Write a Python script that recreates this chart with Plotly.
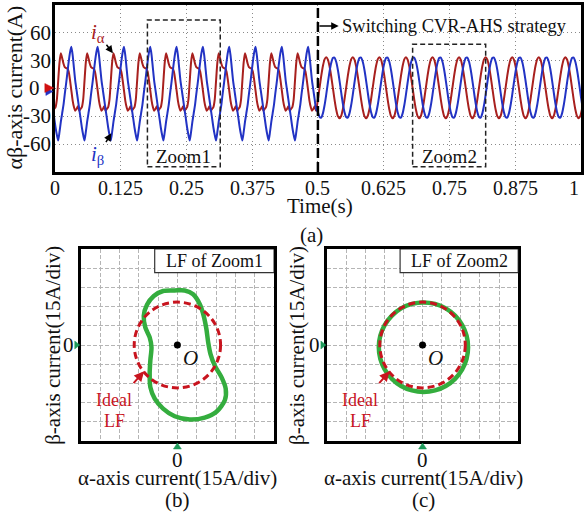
import plotly.graph_objects as go

FONT = "Liberation Serif"
W, H = 584, 514

# ---------------- data ----------------
time_ticks = [0, 0.125, 0.25, 0.375, 0.5, 0.625, 0.75, 0.875, 1]
time_labels = ["0", "0.125", "0.25", "0.375", "0.5", "0.625", "0.75", "0.875", "1"]
current_ticks = [60, 30, 0, -30, -60]
current_labels = ["60", "30", "0", "-30", "-60"]

# one fundamental period before switching (A), 20 samples starting at an i_alpha peak
pre_alpha = [38, 33, 27, 23, 22, 21.5, 18, 9, -2, -13,
             -20, -24, -22, -19, -24, -22, -20, -12, 8, 28]
pre_beta = [-36, -27, -18, -6, 5, 17, 29, 39, 45, 36,
            22, 8, -2, -12, -22, -32, -42, -50, -56, -47]

# one fundamental period after switching (A), 16 samples starting at an i_alpha peak
post_alpha = [33.6, 31.2, 24.0, 13.2, 0.6, -11.9, -22.6, -29.8,
              -32.1, -29.6, -22.4, -11.6, 0.9, 13.5, 24.2, 31.4]
post_beta = [-6.5, 6.2, 18.2, 27.5, 32.8, 33.3, 28.8, 20.2,
             8.6, -4.2, -16.2, -25.5, -30.8, -31.3, -26.8, -18.1]

pre_period = 0.050
post_period = 0.0505
pre_first_peak = 0.0114
post_first_peak = 0.5158
switch_time = 0.497

zoom1_window = [0.176, 0.3144]
zoom2_window = [0.680, 0.8188]

# load-flow trajectory during Zoom1 (A)
lf1_alpha = [-2.1, -11.1, -18.3, -23.6, -26.1, -24.9, -21.5, -20.1, -21.0, -21.5,
             -21.0, -17.6, -11.1, -2.1, 9.6, 21.2, 30.3, 36.8, 37.5, 34.2,
             29.0, 25.7, 23.9, 22.5, 20.4, 17.4, 12.2, 5.7, -2.1]
lf1_beta = [42.6, 42.2, 38.3, 31.4, 22.8, 13.7, 6.0, -1.8, -12.2, -22.5,
            -32.9, -41.9, -49.7, -55.7, -58.2, -56.7, -52.2, -43.2, -34.2, -25.1,
            -16.1, -7.1, 2.1, 12.5, 22.8, 31.8, 39.6, 42.6, 42.6]

# load-flow trajectory during Zoom2 (A)
lf2_alpha = [35.7, 34.5, 31.0, 25.5, 18.2, 9.8, 0.7, -8.3, -16.8, -24.0, -29.6, -33.1,
             -34.3, -33.1, -29.6, -24.0, -16.8, -8.3, 0.7, 9.8, 18.2, 25.5, 31.0, 34.5, 35.7]
lf2_beta = [-1.7, 7.4, 15.8, 23.0, 28.6, 32.1, 33.3, 32.1, 28.6, 23.0, 15.8, 7.4,
            -1.7, -10.8, -19.2, -26.4, -32.0, -35.5, -36.7, -35.5, -32.0, -26.4, -19.2, -10.8, -1.7]

ideal_radius = 33.5
lf_range = 75
lf_step = 15

# ---------------- build time series ----------------
t_s, ia_s, ib_s = [], [], []
n_pre = len(pre_alpha)
for n in range(-1, 10):
    for k in range(n_pre):
        t = pre_first_peak + (n + k / n_pre) * pre_period
        if t < switch_time:
            t_s.append(t); ia_s.append(pre_alpha[k]); ib_s.append(pre_beta[k])
n_post = len(post_alpha)
for n in range(-1, 11):
    for k in range(n_post):
        t = post_first_peak + (n + k / n_post) * post_period
        if switch_time <= t <= 1.03:
            t_s.append(t); ia_s.append(post_alpha[k]); ib_s.append(post_beta[k])

RED = "#A8201E"
BLUE = "#2233C4"
GREEN = "#34AD3E"
IDEAL = "#C8141E"
MARK_GREEN = "#1E9A5A"
TXT = "#111"

# subplot frames in pixels (left, right, top, bottom)
TOP = (55, 583, 5, 172)
PB = (81, 275, 249, 441)
PC = (328, 520, 249, 441)


def px(x):
    return x / W


def py(y):
    return 1 - y / H


def paper_text(x, y, text, size=21, color=TXT, angle=0):
    return dict(x=px(x), y=py(y), xref="paper", yref="paper", text=text, showarrow=False,
                xanchor="center", yanchor="middle", textangle=angle,
                font=dict(family=FONT, size=size, color=color))


def tri(points, color):
    d = "M " + " L ".join(f"{px(a):.5f} {py(b):.5f}" for a, b in points) + " Z"
    return dict(type="path", xref="paper", yref="paper", path=d, fillcolor=color,
                line=dict(color=color, width=0.5), layer="above")


fig = go.Figure()

# ---------------- top panel: time waveforms ----------------
fig.add_trace(go.Scatter(x=t_s, y=ia_s, mode="lines", line=dict(color=RED, width=2, shape="spline", smoothing=0.6),
                         xaxis="x", yaxis="y", showlegend=False, hoverinfo="skip"))
fig.add_trace(go.Scatter(x=t_s, y=ib_s, mode="lines", line=dict(color=BLUE, width=2, shape="spline", smoothing=0.6),
                         xaxis="x", yaxis="y", showlegend=False, hoverinfo="skip"))

# ---------------- bottom panels: load-flow trajectories ----------------
for xa, ya, la, lb in [("x2", "y2", lf1_alpha, lf1_beta), ("x3", "y3", lf2_alpha, lf2_beta)]:
    fig.add_trace(go.Scatter(x=la, y=lb, mode="lines", line=dict(color=GREEN, width=4.5, shape="spline", smoothing=0.8),
                             xaxis=xa, yaxis=ya, showlegend=False, hoverinfo="skip"))
    fig.add_trace(go.Scatter(x=[0], y=[0], mode="markers", marker=dict(size=7, color="black"),
                             xaxis=xa, yaxis=ya, showlegend=False, hoverinfo="skip"))

shapes = []
annotations = []

# channel zero markers of the scope panel
zero_y = TOP[2] + (TOP[3] - TOP[2]) / 2
shapes.append(tri([(46, zero_y - 1), (46, zero_y + 7), (53, zero_y + 3)], BLUE))
shapes.append(tri([(45, zero_y - 5), (45, zero_y + 4), (54, zero_y - 0.5)], "#D01010"))

# ideal circles and axis-origin markers of the LF panels
for xa, ya, box in [("x2", "y2", PB), ("x3", "y3", PC)]:
    shapes.append(dict(type="circle", xref=xa, yref=ya, x0=-ideal_radius, x1=ideal_radius,
                       y0=-ideal_radius, y1=ideal_radius, line=dict(color=IDEAL, width=3, dash="7px,4px")))
    cx = (box[0] + box[1]) / 2
    cy = (box[2] + box[3]) / 2
    shapes.append(tri([(box[0] - 6, cy - 4), (box[0] - 6, cy + 4), (box[0] - 1, cy)], MARK_GREEN))
    shapes.append(tri([(cx - 4, box[3] + 8), (cx + 4, box[3] + 8), (cx, box[3] + 2)], MARK_GREEN))
    annotations.append(paper_text(box[0] - 12, cy, "0"))
    annotations.append(paper_text(cx, box[3] + 19, "0"))

# zoom boxes and switching line
for win, ytop, name in [(zoom1_window, 73.8, "Zoom1"), (zoom2_window, 47.6, "Zoom2")]:
    shapes.append(dict(type="rect", xref="x", yref="y", x0=win[0], x1=win[1], y0=-84.4, y1=ytop,
                       line=dict(color="#222", width=1.5, dash="5px,3px")))
    annotations.append(dict(x=(win[0] + win[1]) / 2, y=-72.8, xref="x", yref="y", text=name, showarrow=False,
                            xanchor="center", yanchor="middle", font=dict(family=FONT, size=19, color=TXT)))
shapes.append(dict(type="line", xref="x", yref="y", x0=0.5, x1=0.5, y0=-90, y1=90,
                   line=dict(color="black", width=2.5, dash="10px,4px")))

# LF title boxes, origin labels and ideal-LF callouts
for xa, ya, name in [("x2", "y2", "LF of Zoom1"), ("x3", "y3", "LF of Zoom2")]:
    shapes.append(dict(type="rect", xref=xa, yref=ya, x0=-17.6, x1=lf_range, y0=56.5, y1=lf_range,
                       fillcolor="white", line=dict(color="#333", width=1.2), layer="above"))
    annotations.append(dict(x=28.7, y=65.8, xref=xa, yref=ya, text=name, showarrow=False,
                            xanchor="center", yanchor="middle", font=dict(family=FONT, size=18, color=TXT)))
    annotations.append(dict(x=10.2, y=-10.2, xref=xa, yref=ya, text="<i>O</i>", showarrow=False,
                            xanchor="center", yanchor="middle", font=dict(family=FONT, size=21, color=TXT)))
    annotations.append(dict(x=-49.0, y=-43.3, xref=xa, yref=ya, text="Ideal", showarrow=False,
                            xanchor="center", yanchor="middle", font=dict(family=FONT, size=18, color=IDEAL)))
    annotations.append(dict(x=-49.0, y=-59.5, xref=xa, yref=ya, text="LF", showarrow=False,
                            xanchor="center", yanchor="middle", font=dict(family=FONT, size=18, color=IDEAL)))
    annotations.append(dict(x=-25.8, y=-20.5, ax=-35.0, ay=-31.0, xref=xa, yref=ya, axref=xa, ayref=ya,
                            text="", showarrow=True, arrowhead=2, arrowsize=1, arrowwidth=2, arrowcolor=IDEAL))

# top panel tick labels
for v, s in zip(current_ticks, current_labels):
    annotations.append(dict(x=-0.004, y=v, xref="x domain", yref="y", text=s, showarrow=False,
                            xanchor="right", yanchor="middle", xshift=-11 if v == 0 else 0,
                            font=dict(family=FONT, size=21, color=TXT)))
for v, s in zip(time_ticks, time_labels):
    annotations.append(dict(x=v, y=-0.02, xref="x", yref="y domain", text=s, showarrow=False,
                            xanchor="right" if v == time_ticks[-1] else "center", yanchor="top",
                            font=dict(family=FONT, size=20, color=TXT)))

# top panel labels
annotations += [
    paper_text(14.5, 87, "αβ-axis current(A)", size=22, angle=-90),
    paper_text(321, 206, "Time(s)"),
    paper_text(313, 235, "(a)"),
    dict(x=0.542, y=67.4, xref="x", yref="y", text="Switching CVR-AHS strategy", showarrow=False,
         xanchor="left", yanchor="middle", font=dict(family=FONT, size=18.5, color=TXT)),
    dict(x=0.5395, y=67.4, ax=0.5, ay=67.4, xref="x", yref="y", axref="x", ayref="y", text="",
         showarrow=True, arrowhead=2, arrowsize=1, arrowwidth=1.5, arrowcolor="black"),
    dict(x=0.1104, y=37.9, ax=0.082, ay=59.5, xref="x", yref="y", axref="x", ayref="y",
         text="<i>i</i><sub>α</sub>", showarrow=True, arrowhead=2, arrowsize=1, arrowwidth=1.5,
         arrowcolor="black", font=dict(family=FONT, size=21, color=RED)),
    dict(x=0.1074, y=-48.3, ax=0.082, ay=-71.7, xref="x", yref="y", axref="x", ayref="y",
         text="<i>i</i><sub>β</sub>", showarrow=True, arrowhead=2, arrowsize=1, arrowwidth=1.5,
         arrowcolor="black", font=dict(family=FONT, size=21, color=BLUE)),
]

# LF panel axis labels
for cx in (53, 298):
    annotations.append(paper_text(cx, 345, "β-axis current(15A/div)", angle=-90))
for cx, tag in [(178, "(b)"), (425, "(c)")]:
    annotations.append(paper_text(cx, 478, "α-axis current(15A/div)"))
    annotations.append(paper_text(cx, 500, tag))

frame = dict(showline=True, mirror=True, linecolor="black", ticks="", showticklabels=False, zeroline=False)
lf_ticks = list(range(-lf_range, lf_range + 1, lf_step))
lf_grid = dict(range=[-lf_range, lf_range], tickvals=lf_ticks, showgrid=True,
               gridcolor="#b5b5b5", gridwidth=1, griddash="4px,2px", linewidth=2.5)
top_grid = dict(showgrid=True, gridcolor="#8a8a8a", gridwidth=1, griddash="1px,3px", linewidth=3)

fig.update_layout(
    width=W, height=H, margin=dict(l=0, r=0, t=0, b=0),
    paper_bgcolor="white", plot_bgcolor="white",
    shapes=shapes, annotations=annotations,
    xaxis=dict(domain=[px(TOP[0]), px(TOP[1])], range=[0, 1], tickvals=time_ticks, anchor="y",
               **top_grid, **frame),
    yaxis=dict(domain=[py(TOP[3]), py(TOP[2])], range=[-90, 90], tickvals=current_ticks, anchor="x",
               **top_grid, **frame),
    xaxis2=dict(domain=[px(PB[0]), px(PB[1])], anchor="y2", **lf_grid, **frame),
    yaxis2=dict(domain=[py(PB[3]), py(PB[2])], anchor="x2", **lf_grid, **frame),
    xaxis3=dict(domain=[px(PC[0]), px(PC[1])], anchor="y3", **lf_grid, **frame),
    yaxis3=dict(domain=[py(PC[3]), py(PC[2])], anchor="x3", **lf_grid, **frame),
)

fig.write_html("out.html")
